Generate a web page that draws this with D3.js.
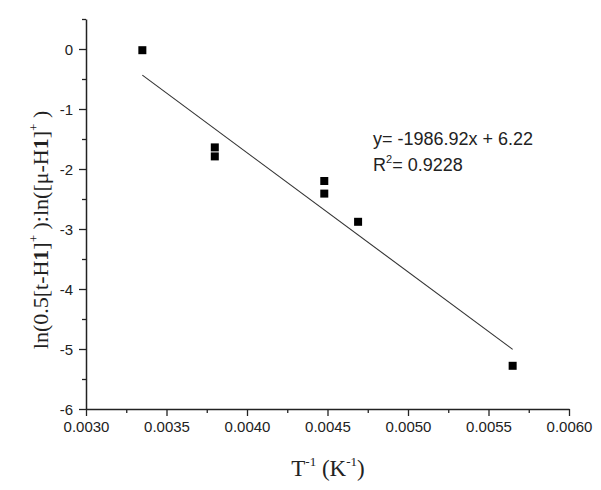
<!DOCTYPE html>
<html>
<head>
<meta charset="utf-8">
<script src="https://cdn.jsdelivr.net/npm/d3@7"></script>
<style>
  body { margin: 0; background: #fff; }
  svg { display: block; }
</style>
</head>
<body>
<script>
// data
var invT = [0.00335, 0.0038, 0.0038, 0.00448, 0.00448, 0.00469, 0.00565];
var lnRatio = [-0.02, -1.64, -1.79, -2.2, -2.41, -2.88, -5.28];
var fitSlope = -1986.92, fitIntercept = 6.22;
var fitLabel = "y= -1986.92x + 6.22";
var r2Label = "0.9228";
var xTicks = [0.0030, 0.0035, 0.0040, 0.0045, 0.0050, 0.0055, 0.0060];
var xMinor = [0.00325, 0.00375, 0.00425, 0.00475, 0.00525, 0.00575];
var yTicks = [-6, -5, -4, -3, -2, -1, 0];
var yMinor = [-5.5, -4.5, -3.5, -2.5, -1.5, -0.5, 0.5];

var W = 601, H = 490;
var svg = d3.select("body").append("svg").attr("width", W).attr("height", H);

var x = d3.scaleLinear().domain([0.0030, 0.0060]).range([86, 569]);
var y = d3.scaleLinear().domain([-6, 0.5]).range([409, 19]);

var tickFont = "'Liberation Sans', Arial, sans-serif";

// minor ticks first
svg.append("g").attr("transform", "translate(0,409)")
  .call(d3.axisBottom(x).tickValues(xMinor).tickSize(4).tickFormat(""))
  .call(function(g){ g.select(".domain").remove(); });
svg.append("g").attr("transform", "translate(86,0)")
  .call(d3.axisLeft(y).tickValues(yMinor).tickSize(4).tickFormat(""))
  .call(function(g){ g.select(".domain").remove(); });

var xa = svg.append("g").attr("transform", "translate(0,409)")
  .call(d3.axisBottom(x).tickValues(xTicks).tickSize(7).tickSizeOuter(0).tickPadding(5).tickFormat(d3.format(".4f")));
var ya = svg.append("g").attr("transform", "translate(86,0)")
  .call(d3.axisLeft(y).tickValues(yTicks).tickSize(7).tickSizeOuter(0).tickPadding(6).tickFormat(function(d){ return String(d); }));

svg.selectAll(".tick line").attr("stroke", "#222").attr("stroke-width", 1.3);
svg.selectAll(".domain").attr("stroke", "#222").attr("stroke-width", 1.5);
svg.selectAll(".tick text").attr("font-family", tickFont).attr("font-size", 15).attr("fill", "#222");
ya.selectAll(".tick text").attr("dy", "0.36em");

// fit line
var fx = d3.extent(invT);
svg.append("line")
  .attr("x1", x(fx[0])).attr("y1", y(fitSlope * fx[0] + fitIntercept))
  .attr("x2", x(fx[1])).attr("y2", y(fitSlope * fx[1] + fitIntercept))
  .attr("stroke", "#333").attr("stroke-width", 1.1);

// points
svg.append("g").selectAll("rect").data(invT).join("rect")
  .attr("x", function(d){ return x(d) - 4; })
  .attr("y", function(d, i){ return y(lnRatio[i]) - 4; })
  .attr("width", 8).attr("height", 8)
  .attr("fill", "#000");

// fit text
var ft = svg.append("g").attr("font-family", tickFont).attr("font-size", 18).attr("fill", "#222");
ft.append("text").attr("x", 373).attr("y", 145).text(fitLabel);
var r2 = ft.append("text").attr("x", 373).attr("y", 171);
r2.append("tspan").text("R");
r2.append("tspan").attr("font-size", 11).attr("dy", -8).text("2");
r2.append("tspan").attr("dy", 8).text("= " + r2Label);

// axis titles (Times)
var serif = "'Liberation Serif', 'Times New Roman', serif";
var xt = svg.append("text").attr("x", 328).attr("y", 476)
  .attr("text-anchor", "middle").attr("font-family", serif).attr("font-size", 23).attr("fill", "#222");
xt.append("tspan").text("T");
xt.append("tspan").attr("font-size", 13).attr("dy", -10).text("-1");
xt.append("tspan").attr("dy", 10).text(" (K");
xt.append("tspan").attr("font-size", 13).attr("dy", -10).text("-1");
xt.append("tspan").attr("dy", 10).text(")");

var yt = svg.append("text").attr("transform", "translate(48,230) rotate(-90)")
  .attr("text-anchor", "middle").attr("font-family", serif).attr("font-size", 22).attr("fill", "#222");
yt.append("tspan").text("ln(0.5[t-H");
yt.append("tspan").attr("font-weight", "bold").text("1");
yt.append("tspan").text("]");
yt.append("tspan").attr("font-size", 13).attr("dy", -10).text("+");
yt.append("tspan").attr("dy", 10).text(" ):ln([\u03bc-H");
yt.append("tspan").attr("font-weight", "bold").text("1");
yt.append("tspan").text("]");
yt.append("tspan").attr("font-size", 13).attr("dy", -10).text("+");
yt.append("tspan").attr("dy", 10).text(" )");
</script>
</body>
</html>
